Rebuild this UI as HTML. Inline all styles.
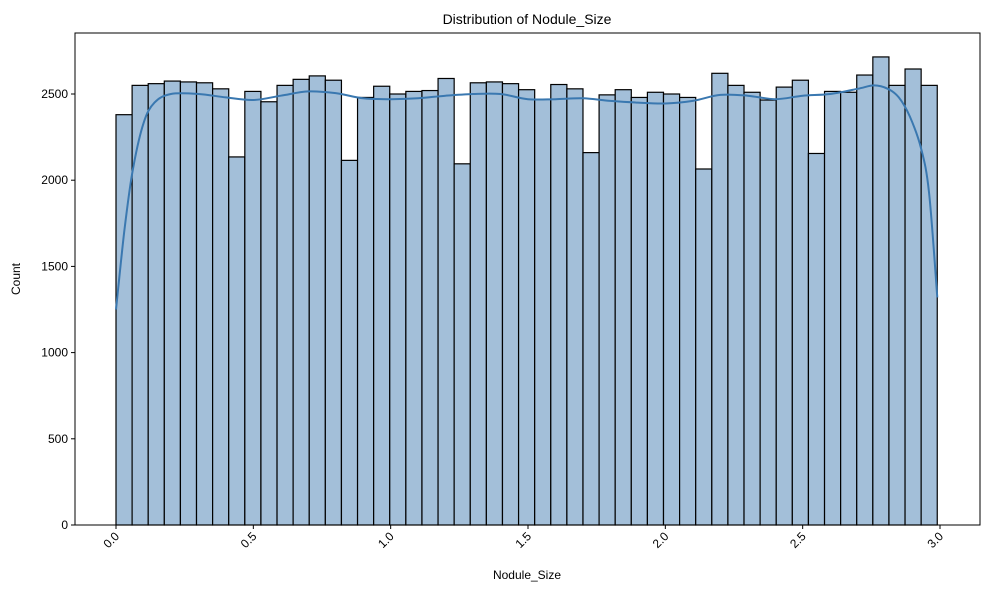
<!DOCTYPE html>
<html><head><meta charset="utf-8"><style>
body{margin:0;background:#fff;font-family:"Liberation Sans","DejaVu Sans",sans-serif}
</style></head><body>
<svg id="chart" width="989" height="590" xmlns="http://www.w3.org/2000/svg"></svg>
<script>
const counts=[2380,2550,2560,2575,2570,2565,2530,2135,2515,2455,2550,2585,2605,2580,2115,2480,2545,2500,2515,2520,2590,2095,2565,2570,2560,2525,2470,2555,2530,2160,2495,2525,2480,2510,2500,2480,2065,2620,2550,2510,2465,2540,2580,2155,2515,2510,2610,2715,2550,2645,2550];
const binStart=0, binEnd=2.99;
const kdeX=[0,0.03,0.06,0.1,0.14,0.2,0.3,0.4,0.5,0.6,0.7,0.8,0.9,1.0,1.1,1.2,1.3,1.4,1.5,1.6,1.7,1.8,1.9,2.0,2.1,2.2,2.3,2.4,2.5,2.6,2.7,2.76,2.81,2.85,2.89,2.93,2.96,2.99];
const kdeY=[1250,1700,2050,2330,2450,2500,2500,2480,2465,2490,2515,2505,2475,2470,2475,2490,2500,2500,2470,2470,2475,2460,2450,2445,2460,2495,2490,2470,2490,2500,2530,2550,2530,2480,2370,2190,1930,1320];
const xTicks=[0,0.5,1,1.5,2,2.5,3];
const xTickLabels=["0.0","0.5","1.0","1.5","2.0","2.5","3.0"];
const yTicks=[0,500,1000,1500,2000,2500];
const L=75,R=980,T=33,B=525;
const xs=v=>116+(v-0)/3*824;
const ys=v=>B-v*431/2500;
const svg=document.getElementById('chart');
const NS="http://www.w3.org/2000/svg";
function mk(tag,attrs,parent){const e=document.createElementNS(NS,tag);for(const k in attrs)e.setAttribute(k,attrs[k]);(parent||svg).appendChild(e);return e;}
const w=(xs(binEnd)-xs(binStart))/counts.length;
const bars=mk('g',{});


counts.forEach((c,i)=>{
  const r=mk('rect',{x:xs(binStart)+i*w,y:ys(c),width:w,height:B-ys(c),fill:'#a3bfd9',stroke:'#000','stroke-width':1.2},bars);
  
  
});
const P=kdeX.map((x,i)=>[xs(x),ys(kdeY[i])]);
let d='M'+P[0][0].toFixed(1)+','+P[0][1].toFixed(1);
for(let i=0;i<P.length-1;i++){
  const p0=P[Math.max(0,i-1)],p1=P[i],p2=P[i+1],p3=P[Math.min(P.length-1,i+2)];
  const c1=[p1[0]+(p2[0]-p0[0])/6,p1[1]+(p2[1]-p0[1])/6],c2=[p2[0]-(p3[0]-p1[0])/6,p2[1]-(p3[1]-p1[1])/6];
  d+=` C${c1[0].toFixed(1)},${c1[1].toFixed(1)} ${c2[0].toFixed(1)},${c2[1].toFixed(1)} ${p2[0].toFixed(1)},${p2[1].toFixed(1)}`;
}
const kde=mk('path',{d:d,fill:'none',stroke:'#3a78b0','stroke-width':2,'stroke-linejoin':'round'});


const frame=mk('rect',{x:L,y:T,width:R-L,height:B-T,fill:'none',stroke:'#000','stroke-width':1});


yTicks.forEach(v=>{
  mk('line',{x1:L-4,x2:L,y1:ys(v),y2:ys(v),stroke:'#000'});
  const t=mk('text',{x:L-7,y:ys(v)+4,'font-size':12,'text-anchor':'end'});t.textContent=v;
  
  
});
xTicks.forEach((v,i)=>{
  mk('line',{x1:xs(v),x2:xs(v),y1:B,y2:B+4,stroke:'#000'});
  const t=mk('text',{x:xs(v)+4,y:B+12,'font-size':12,'text-anchor':'end',transform:`rotate(-45 ${xs(v)+4} ${B+12})`});t.textContent=xTickLabels[i];
  
  
});
const title=mk('text',{x:527,y:24,'font-size':14,'text-anchor':'middle'});title.textContent='Distribution of Nodule_Size';


const xl=mk('text',{x:527,y:579,'font-size':12,'text-anchor':'middle'});xl.textContent='Nodule_Size';


const yl=mk('text',{x:20,y:279,'font-size':12,'text-anchor':'middle',transform:'rotate(-90 20 279)'});yl.textContent='Count';


</script>
</body></html>
